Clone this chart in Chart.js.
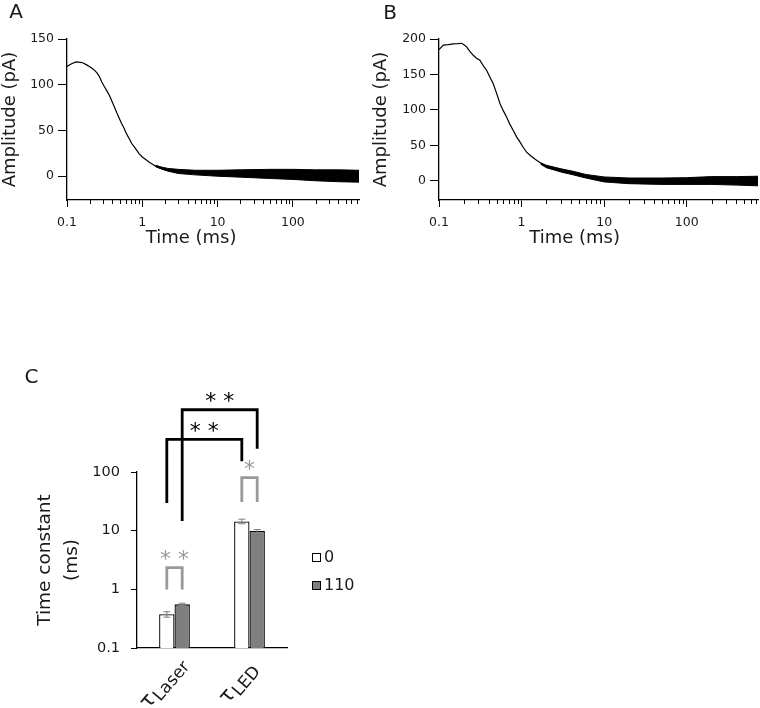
<!DOCTYPE html>
<html>
<head>
<meta charset="utf-8">
<title>Current amplitude and time constants</title>
<script src="https://cdn.jsdelivr.net/npm/chart.js@4.4.0/dist/chart.umd.min.js"></script>
<style>
  body { margin: 0; background: #fff; width: 760px; height: 708px; position: relative; overflow: hidden; }
  .panel { position: absolute; }
</style>
</head>
<body>
<div class="panel" style="left:0;top:0;width:370px;height:260px"><canvas id="chartA"></canvas></div>
<div class="panel" style="left:360px;top:0;width:400px;height:260px"><canvas id="chartB"></canvas></div>
<div class="panel" style="left:0;top:360px;width:400px;height:348px"><canvas id="chartC"></canvas></div>
<script>
// ---- panel A trace (time in ms, amplitude in pA)
var timeA = [0.1, 0.115, 0.132, 0.15, 0.161, 0.18, 0.198, 0.215, 0.231, 0.25,
  0.269, 0.29, 0.313, 0.34, 0.365, 0.395, 0.425, 0.46, 0.495, 0.535,
  0.577, 0.62, 0.672, 0.72, 0.783, 0.85, 0.912, 1.0, 1.12, 1.25,
  1.37, 1.5, 1.68, 2.0, 2.28, 2.8, 3.43, 4.5, 5.7, 7.5,
  10, 15, 26, 50, 100, 200, 340, 500, 755];
var ampA = [120, 123, 125, 124.5, 124, 122, 120, 118, 116, 113,
  109, 103, 98, 93, 88.5, 82, 76, 69, 63, 57,
  52, 46, 41, 36, 32, 28, 24.5, 21, 18, 15,
  13, 11, 9, 7, 6, 5, 4.5, 4, 3.5, 3.5,
  3, 3, 3, 2.5, 2, 1.5, 1, 0.5, 0];
// noise envelope of the tail
var noiseTimeA = [1.5, 1.8, 2.2, 3, 5, 10, 20, 50, 100, 200, 400, 755];
var noiseHiA = [12, 10, 8.5, 7.5, 6.5, 6.5, 7, 7.5, 7.5, 7, 7, 6.5];
var noiseLoA = [10.5, 8, 5.5, 3, 1.5, 0, -1, -2.5, -3.5, -5, -6, -6.5];

// ---- panel B trace
var timeB = [0.1, 0.113, 0.13, 0.149, 0.17, 0.188, 0.2, 0.216, 0.235, 0.26,
  0.285, 0.313, 0.345, 0.377, 0.41, 0.454, 0.5, 0.547, 0.6, 0.658,
  0.72, 0.793, 0.87, 0.955, 1.05, 1.15, 1.3, 1.52, 1.75, 2.0,
  2.4, 2.91, 3.5, 4.22, 5, 6.1, 8, 10.5, 15, 20,
  50, 100, 300, 730];
var ampB = [185, 191.5, 192, 193, 193.5, 194, 192, 189, 183, 177,
  173, 170, 162, 156, 147, 137, 123, 109, 99, 90,
  80, 71, 62, 55, 47, 40.5, 35, 29, 24, 20,
  17, 14.6, 13, 11, 8.5, 6.5, 4, 2, 1, 0,
  0.5, 0.5, 0, 0];
var noiseTimeB = [1.7, 2, 3, 4.2, 6, 10, 20, 50, 100, 200, 400, 730];
var noiseHiB = [25.5, 22, 17, 13.5, 9, 5.5, 4, 4, 4.5, 6, 6, 6.5];
var noiseLoB = [23.5, 18.5, 12.5, 8.5, 4, -1.5, -4, -5, -5, -5, -6, -7];

var timeTicks = [0.1, 1, 10, 100];
var ampTicksA = [0, 50, 100, 150];
var ampTicksB = [0, 50, 100, 150, 200];

// ---- panel C bars (time constant, ms)
var categories = ['Laser', 'LED'];
var seriesNames = ['0', '110'];
var tau0 = [0.375, 14.4];
var tau0Err = [0.04, 1.3];
var tau110 = [0.555, 9.85];
var tau110Err = [0.025, 0.6];
var tauTicks = [0.1, 1, 10, 100];
// significance brackets: [dataset, category] ends, leg bottoms and top in ms
var sigPairs = [
  { a: [0, 0], b: [1, 0], lowA: 0.99, lowB: 0.99, top: 2.34, text: '* *', grey: true },
  { a: [0, 1], b: [1, 1], lowA: 30.7, lowB: 30.7, top: 80, text: '*', grey: true },
  { a: [0, 0], b: [0, 1], lowA: 29.5, lowB: 153, top: 359, text: '* *', grey: false },
  { a: [1, 0], b: [1, 1], lowA: 14.6, lowB: 250, top: 1151, text: '* *', grey: false }
];

Chart.defaults.font.family = "'DejaVu Sans', sans-serif";
Chart.defaults.color = '#1a1a1a';

function pts(xs, ys) {
  var out = [];
  for (var i = 0; i < xs.length; i++) out.push({ x: xs[i], y: ys[i] });
  return out;
}

// minor log ticks, x title and panel letter
var decor = {
  id: 'decor',
  afterDraw: function(chart, args, opts) {
    var ctx = chart.ctx, area = chart.chartArea;
    ctx.save();
    if (opts.minor) {
      var sx = chart.scales.x;
      ctx.strokeStyle = '#000';
      ctx.lineWidth = 1;
      timeTicks.forEach(function(d) {
        for (var m = 2; m <= 9; m++) {
          var v = m * d;
          if (v > sx.max) break;
          var px = Math.round(sx.getPixelForValue(v)) + 0.5;
          ctx.beginPath();
          ctx.moveTo(px, area.bottom);
          ctx.lineTo(px, area.bottom + 4);
          ctx.stroke();
        }
      });
    }
    ctx.fillStyle = '#1a1a1a';
    ctx.textBaseline = 'middle';
    if (opts.xTitle) {
      ctx.font = '18px "DejaVu Sans"';
      ctx.textAlign = 'center';
      ctx.fillText(opts.xTitle, area.left + (area.right - area.left) * 0.425, area.bottom + 38);
    }
    if (opts.letter) {
      ctx.font = '20px "DejaVu Sans"';
      ctx.textAlign = 'center';
      ctx.fillText(opts.letter, opts.lx, opts.ly);
    }
    ctx.restore();
  }
};

function traceChart(id, t, amp, nt, hi, lo, cfg) {
  return new Chart(document.getElementById(id), {
    type: 'line',
    data: {
      datasets: [
        { data: pts(nt, hi), borderColor: '#000', borderWidth: 1, pointRadius: 0, fill: false },
        { data: pts(nt, lo), borderColor: '#000', borderWidth: 1, pointRadius: 0, fill: '-1', backgroundColor: '#000' },
        { data: pts(t, amp), borderColor: '#000', borderWidth: 1.2, pointRadius: 0, fill: false }
      ]
    },
    options: {
      animation: false,
      responsive: true,
      maintainAspectRatio: false,
      layout: { padding: { left: 0, top: 39, right: cfg.right, bottom: 0 } },
      scales: {
        x: {
          type: 'logarithmic', min: 0.1, max: cfg.xmax,
          afterBuildTicks: function(s) { s.ticks = timeTicks.map(function(v) { return { value: v }; }); },
          afterFit: function(s) { s.height = 60; },
          ticks: { callback: function(v) { return String(v); }, font: { size: 12.5 }, padding: 8, maxRotation: 0 },
          grid: { drawOnChartArea: false, tickLength: 7, tickColor: '#000', tickWidth: 1 },
          border: { color: '#000', width: 1.3 }
        },
        y: {
          min: cfg.ymin, max: cfg.ymax,
          afterBuildTicks: function(s) { s.ticks = cfg.ticks.map(function(v) { return { value: v }; }); },
          afterFit: function(s) { s.width = cfg.left; },
          ticks: { font: { size: 12.5 }, padding: 4 },
          grid: { drawOnChartArea: false, tickLength: 9, tickColor: '#000', tickWidth: 1 },
          border: { color: '#000', width: 1.3 },
          title: { display: true, text: 'Amplitude (pA)', font: { size: 18 }, color: '#1a1a1a', padding: { top: cfg.titlePad, bottom: 0 } }
        }
      },
      plugins: {
        legend: { display: false },
        tooltip: { enabled: false },
        decor: { minor: true, xTitle: 'Time (ms)', letter: cfg.letter, lx: cfg.lx, ly: cfg.ly }
      }
    },
    plugins: [decor]
  });
}

traceChart('chartA', timeA, ampA, noiseTimeA, noiseHiA, noiseLoA,
  { right: 11, left: 67, xmax: 755, ymin: -26, ymax: 150, ticks: ampTicksA, titlePad: 0, letter: 'A', lx: 16, ly: 13 });
traceChart('chartB', timeB, ampB, noiseTimeB, noiseHiB, noiseLoB,
  { right: 2, left: 79, xmax: 730, ymin: -27, ymax: 200, ticks: ampTicksB, titlePad: 10.7, letter: 'B', lx: 30, ly: 13.5 });

// error bars, brackets, legend and tau labels for panel C
var barExtras = {
  id: 'barExtras',
  afterDatasetsDraw: function(chart) {
    var ctx = chart.ctx, ys = chart.scales.y, xs = chart.scales.x, area = chart.chartArea;
    ctx.save();
    // error bars
    ctx.strokeStyle = '#808080';
    ctx.lineWidth = 1;
    chart.data.datasets.forEach(function(ds, i) {
      chart.getDatasetMeta(i).data.forEach(function(bar, j) {
        var v = ds.data[j], e = ds.errors[j];
        var y1 = ys.getPixelForValue(v + e), y2 = ys.getPixelForValue(v - e);
        ctx.beginPath();
        ctx.moveTo(bar.x, y1); ctx.lineTo(bar.x, y2);
        ctx.moveTo(bar.x - 3.5, y1); ctx.lineTo(bar.x + 3.5, y1);
        ctx.moveTo(bar.x - 3.5, y2); ctx.lineTo(bar.x + 3.5, y2);
        ctx.stroke();
      });
    });
    // significance brackets
    ctx.lineWidth = 2.8;
    ctx.lineJoin = 'miter';
    ctx.lineCap = 'butt';
    ctx.textAlign = 'center';
    ctx.textBaseline = 'middle';
    ctx.font = '22px "DejaVu Sans"';
    sigPairs.forEach(function(p) {
      var col = p.grey ? '#999999' : '#000000';
      var xa = chart.getDatasetMeta(p.a[0]).data[p.a[1]].x;
      var xb = chart.getDatasetMeta(p.b[0]).data[p.b[1]].x;
      var yt = ys.getPixelForValue(p.top);
      ctx.strokeStyle = col;
      ctx.beginPath();
      ctx.moveTo(xa, ys.getPixelForValue(p.lowA));
      ctx.lineTo(xa, yt);
      ctx.lineTo(xb, yt);
      ctx.lineTo(xb, ys.getPixelForValue(p.lowB));
      ctx.stroke();
      ctx.fillStyle = col;
      ctx.fillText(p.text, (xa + xb) / 2, yt - 7);
    });
    // legend
    var colors = ['#ffffff', '#7f7f7f'];
    ctx.lineWidth = 1;
    ctx.strokeStyle = '#000';
    ctx.textAlign = 'left';
    ctx.font = '16px "DejaVu Sans"';
    seriesNames.forEach(function(name, i) {
      var bx = area.right + 25, by = area.top + 81 + i * 28;
      ctx.fillStyle = colors[i];
      ctx.fillRect(bx, by, 8, 8);
      ctx.strokeRect(bx + 0.5, by + 0.5, 8, 8);
      ctx.fillStyle = '#1a1a1a';
      ctx.fillText(name, bx + 12, by + 4.5);
    });
    // category labels: tau with subscript, rotated about their middle
    categories.forEach(function(name, j) {
      var cx = xs.getPixelForValue(j);
      ctx.save();
      ctx.translate(cx - 9, area.bottom + 37);
      ctx.rotate(-0.86);
      ctx.fillStyle = '#1a1a1a';
      ctx.textAlign = 'left';
      ctx.textBaseline = 'alphabetic';
      ctx.font = '21px "DejaVu Sans"';
      var wt = ctx.measureText('\u03c4').width;
      ctx.font = '17px "DejaVu Sans"';
      var ws = ctx.measureText(name).width;
      var x0 = -(wt + 1 + ws) / 2;
      ctx.fillText(name, x0 + wt + 1, 7);
      ctx.font = '21px "DejaVu Sans"';
      ctx.fillText('\u03c4', x0, 3);
      ctx.restore();
    });
    ctx.restore();
  }
};

new Chart(document.getElementById('chartC'), {
  type: 'bar',
  data: {
    labels: categories,
    datasets: [
      { label: seriesNames[0], data: tau0, errors: tau0Err, backgroundColor: '#ffffff', borderColor: '#000', borderWidth: 1.3 },
      { label: seriesNames[1], data: tau110, errors: tau110Err, backgroundColor: '#7f7f7f', borderColor: '#000', borderWidth: 1.3 }
    ]
  },
  options: {
    animation: false,
    responsive: true,
    maintainAspectRatio: false,
    layout: { padding: { left: 0, top: 112, right: 113, bottom: 0 } },
    datasets: { bar: { barPercentage: 1, categoryPercentage: 0.41 } },
    scales: {
      x: {
        ticks: { display: false },
        grid: { display: false },
        border: { color: '#000', width: 1.3 },
        afterFit: function(s) { s.height = 60; }
      },
      y: {
        type: 'logarithmic', min: 0.1, max: 100,
        afterBuildTicks: function(s) { s.ticks = tauTicks.map(function(v) { return { value: v }; }); },
        afterFit: function(s) { s.width = 137; },
        ticks: { callback: function(v) { return String(v); }, font: { size: 14.5 }, padding: 11 },
        grid: { drawOnChartArea: false, tickLength: 6, tickColor: '#000', tickWidth: 1 },
        border: { color: '#000', width: 1.3 },
        title: { display: true, text: ['Time constant', '(ms)'], font: { size: 18.5, lineHeight: 1.45 }, color: '#1a1a1a', padding: { top: 31.5, bottom: 0 } }
      }
    },
    plugins: {
      legend: { display: false },
      tooltip: { enabled: false },
      decor: { minor: false, letter: 'C', lx: 31.5, ly: 18 }
    }
  },
  plugins: [barExtras, decor]
});
</script>
</body>
</html>
